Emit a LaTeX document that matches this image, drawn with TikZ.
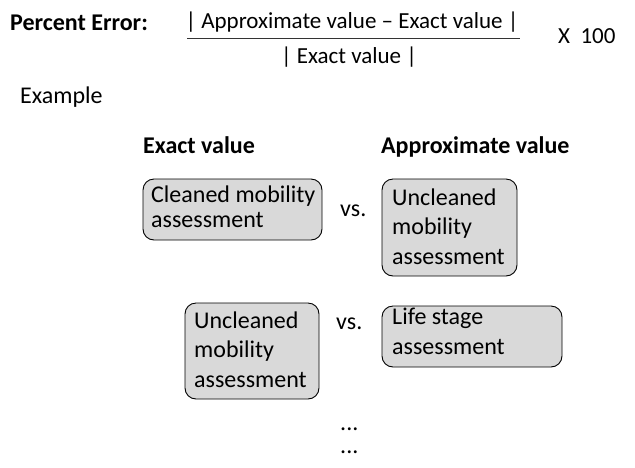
\documentclass[tikz,border=0pt]{standalone}
\usepackage{fontspec}
\setmainfont{Carlito}
\begin{document}
\begin{tikzpicture}[x=1pt,y=-1pt,
  txt/.style={inner sep=0pt, anchor=base west, font=\fontsize{24}{29}\selectfont},
  btxt/.style={txt, font=\fontsize{24}{29}\selectfont\bfseries},
  ftxt/.style={inner sep=0pt, anchor=base, font=\fontsize{23}{27}\selectfont},
  box/.style={draw=black, line width=0.9pt, fill=gray!30, rounded corners=11pt, inner sep=0pt}]
\useasboundingbox (0,0) rectangle (635,467);
% formula
\node[btxt] (pe) at (10,30) {Percent Error:};
\node[ftxt] (num) at (352,28.5) {| Approximate value -- Exact value |};
\node[ftxt] (den) at (349,63) {| Exact value |};
\coordinate (fl) at (187,38);
\coordinate (fr) at (520,38);
\draw[line width=0.9pt, black!80] (fl) -- (fr);
\node[ftxt, anchor=base west] (times) at (558,43) {X\ \ 100};
\node[txt] (ex) at (20,103) {Example};
\node[btxt] (hexact) at (143,153) {Exact value};
\node[btxt] (happrox) at (381,153) {Approximate value};
% boxes
\draw[box] (143,179) rectangle (322,240);
\draw[box] (382,179) rectangle (517,276);
\draw[box] (185,303) rectangle (319,399);
\draw[box] (382,306) rectangle (562,367);
% box texts
\node[txt] (b1a) at (151,202) {Cleaned mobility};
\node[txt] (b1b) at (151,227) {assessment};
\node[txt] (b2a) at (392,205) {Uncleaned};
\node[txt] (b2b) at (392,234.5) {mobility};
\node[txt] (b2c) at (392,264) {assessment};
\node[txt] (b3a) at (194,328) {Uncleaned};
\node[txt] (b3b) at (194,357.5) {mobility};
\node[txt] (b3c) at (194,387) {assessment};
\node[txt] (b4a) at (392,324) {Life stage};
\node[txt] (b4b) at (392,354) {assessment};
% vs
\node[txt] (vs1) at (340,216) {vs.};
\node[txt] (vs2) at (336,329) {vs.};
\node[txt] (d1) at (340,430) {...};
\node[txt] (d2) at (340,453) {...};
\end{tikzpicture}
\end{document}
